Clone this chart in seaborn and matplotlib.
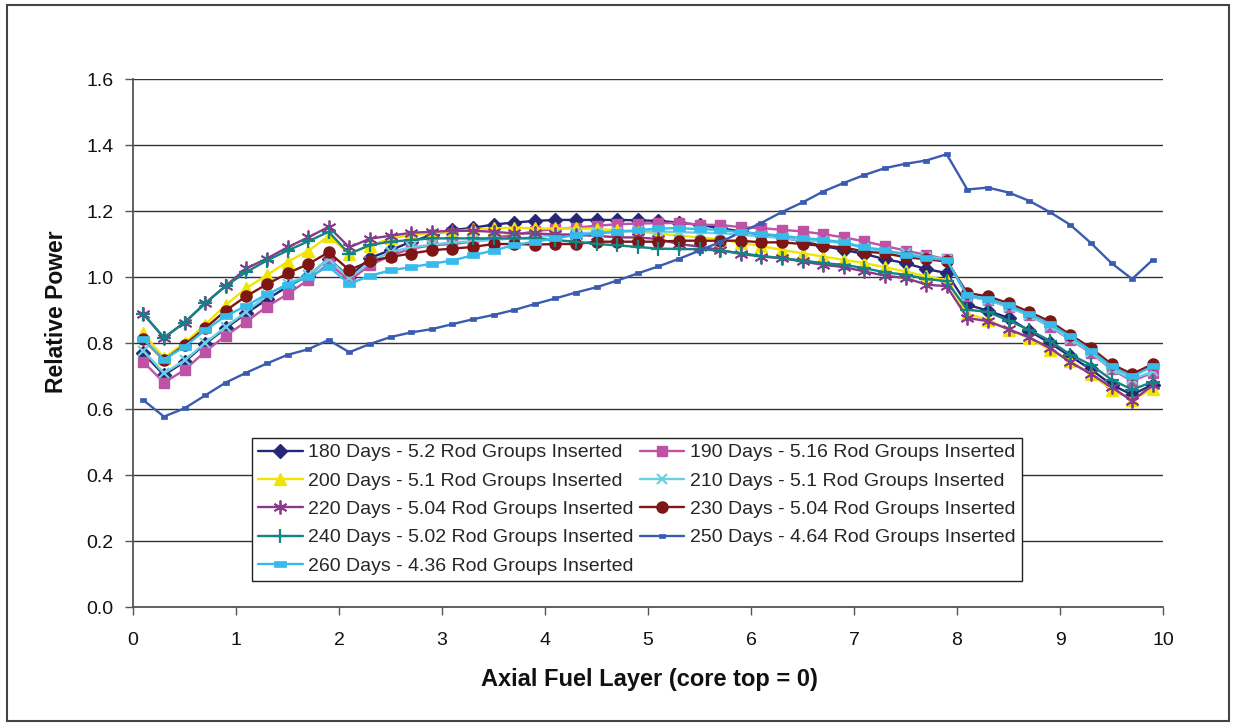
import matplotlib
matplotlib.use("Agg")
import matplotlib.pyplot as plt
from matplotlib.patches import Rectangle
import seaborn as sns

# Axial fuel layer positions (core top = 0)
layer = [0.1, 0.3, 0.5, 0.7, 0.9, 1.1, 1.3, 1.5, 1.7, 1.9,
         2.1, 2.3, 2.5, 2.7, 2.9, 3.1, 3.3, 3.5, 3.7, 3.9,
         4.1, 4.3, 4.5, 4.7, 4.9, 5.1, 5.3, 5.5, 5.7, 5.9,
         6.1, 6.3, 6.5, 6.7, 6.9, 7.1, 7.3, 7.5, 7.7, 7.9,
         8.1, 8.3, 8.5, 8.7, 8.9, 9.1, 9.3, 9.5, 9.7, 9.9]

# Relative power per layer at each burnup step
p180 = [0.769, 0.703, 0.743, 0.797, 0.845, 0.890, 0.932, 0.971, 1.004, 1.055,
        1.000, 1.058, 1.081, 1.107, 1.127, 1.142, 1.149, 1.159, 1.165, 1.170,
        1.173, 1.173, 1.173, 1.173, 1.172, 1.170, 1.165, 1.158, 1.148, 1.138,
        1.128, 1.120, 1.108, 1.094, 1.082, 1.070, 1.054, 1.042, 1.024, 1.012,
        0.916, 0.898, 0.876, 0.837, 0.800, 0.760, 0.720, 0.674, 0.643, 0.674]
p190 = [0.743, 0.680, 0.718, 0.774, 0.822, 0.865, 0.910, 0.948, 0.991, 1.041,
        0.990, 1.035, 1.065, 1.086, 1.096, 1.100, 1.107, 1.120, 1.127, 1.139,
        1.145, 1.150, 1.155, 1.160, 1.162, 1.163, 1.164, 1.158, 1.158, 1.151,
        1.148, 1.143, 1.138, 1.130, 1.120, 1.108, 1.094, 1.080, 1.067, 1.054,
        0.941, 0.931, 0.909, 0.884, 0.850, 0.810, 0.770, 0.720, 0.685, 0.710]
p200 = [0.829, 0.755, 0.800, 0.855, 0.915, 0.966, 1.006, 1.046, 1.079, 1.124,
        1.070, 1.095, 1.117, 1.127, 1.132, 1.137, 1.145, 1.147, 1.150, 1.147,
        1.147, 1.147, 1.145, 1.142, 1.137, 1.132, 1.125, 1.120, 1.115, 1.103,
        1.094, 1.082, 1.072, 1.062, 1.052, 1.042, 1.030, 1.017, 1.002, 0.990,
        0.888, 0.871, 0.840, 0.815, 0.780, 0.745, 0.706, 0.659, 0.628, 0.660]
p210 = [0.777, 0.708, 0.747, 0.800, 0.849, 0.895, 0.945, 0.980, 1.005, 1.055,
        0.996, 1.045, 1.076, 1.090, 1.098, 1.105, 1.108, 1.112, 1.117, 1.120,
        1.127, 1.132, 1.135, 1.137, 1.139, 1.138, 1.136, 1.134, 1.133, 1.128,
        1.123, 1.118, 1.110, 1.108, 1.103, 1.087, 1.077, 1.072, 1.062, 1.054,
        0.941, 0.931, 0.909, 0.884, 0.852, 0.812, 0.772, 0.722, 0.690, 0.714]
p220 = [0.888, 0.816, 0.862, 0.920, 0.973, 1.026, 1.056, 1.090, 1.120, 1.152,
        1.090, 1.116, 1.125, 1.134, 1.137, 1.140, 1.140, 1.137, 1.132, 1.132,
        1.129, 1.127, 1.125, 1.120, 1.120, 1.115, 1.100, 1.092, 1.082, 1.070,
        1.062, 1.057, 1.047, 1.037, 1.030, 1.017, 1.004, 0.997, 0.977, 0.972,
        0.876, 0.866, 0.842, 0.817, 0.785, 0.742, 0.706, 0.666, 0.625, 0.672]
p230 = [0.811, 0.748, 0.794, 0.845, 0.898, 0.942, 0.978, 1.011, 1.039, 1.075,
        1.021, 1.048, 1.061, 1.071, 1.081, 1.086, 1.091, 1.100, 1.100, 1.098,
        1.100, 1.100, 1.107, 1.107, 1.107, 1.107, 1.110, 1.110, 1.110, 1.110,
        1.105, 1.105, 1.100, 1.094, 1.090, 1.077, 1.072, 1.060, 1.054, 1.047,
        0.952, 0.941, 0.921, 0.894, 0.866, 0.825, 0.785, 0.736, 0.706, 0.736]
p240 = [0.888, 0.816, 0.862, 0.920, 0.973, 1.015, 1.050, 1.080, 1.108, 1.137,
        1.070, 1.097, 1.107, 1.112, 1.117, 1.117, 1.117, 1.117, 1.117, 1.117,
        1.112, 1.107, 1.100, 1.096, 1.091, 1.086, 1.085, 1.084, 1.080, 1.072,
        1.064, 1.057, 1.050, 1.042, 1.037, 1.027, 1.014, 1.007, 0.994, 0.987,
        0.901, 0.894, 0.868, 0.840, 0.807, 0.765, 0.734, 0.689, 0.659, 0.682]
p250 = [0.627, 0.577, 0.602, 0.641, 0.680, 0.710, 0.738, 0.764, 0.781, 0.809,
        0.772, 0.797, 0.818, 0.832, 0.842, 0.857, 0.872, 0.885, 0.900, 0.918,
        0.935, 0.953, 0.969, 0.989, 1.011, 1.032, 1.055, 1.080, 1.106, 1.135,
        1.164, 1.197, 1.226, 1.259, 1.285, 1.309, 1.330, 1.343, 1.353, 1.372,
        1.265, 1.271, 1.256, 1.231, 1.197, 1.158, 1.103, 1.042, 0.994, 1.052]
p260 = [0.811, 0.750, 0.789, 0.839, 0.882, 0.913, 0.948, 0.976, 1.001, 1.031,
        0.979, 1.004, 1.020, 1.030, 1.040, 1.050, 1.066, 1.080, 1.097, 1.107,
        1.117, 1.127, 1.132, 1.137, 1.142, 1.147, 1.148, 1.145, 1.143, 1.135,
        1.131, 1.125, 1.118, 1.113, 1.105, 1.090, 1.082, 1.067, 1.057, 1.052,
        0.944, 0.934, 0.914, 0.888, 0.858, 0.820, 0.777, 0.729, 0.699, 0.729]

labels = ["180 Days - 5.2 Rod Groups Inserted",
          "190 Days - 5.16 Rod Groups Inserted",
          "200 Days - 5.1 Rod Groups Inserted",
          "210 Days - 5.1 Rod Groups Inserted",
          "220 Days - 5.04 Rod Groups Inserted",
          "230 Days - 5.04 Rod Groups Inserted",
          "240 Days - 5.02 Rod Groups Inserted",
          "250 Days - 4.64 Rod Groups Inserted",
          "260 Days - 4.36 Rod Groups Inserted"]
series = [p180, p190, p200, p210, p220, p230, p240, p250, p260]

x_ticks = [0, 1, 2, 3, 4, 5, 6, 7, 8, 9, 10]
y_ticks = [0.0, 0.2, 0.4, 0.6, 0.8, 1.0, 1.2, 1.4, 1.6]
y_tick_labels = ["0.0", "0.2", "0.4", "0.6", "0.8", "1.0", "1.2", "1.4", "1.6"]

# small filled bar used as the "dash" marker
bar = [(-1, -0.45), (1, -0.45), (1, 0.45), (-1, 0.45), (-1, -0.45)]

styles = [
    dict(color="#272778", marker="D", markersize=7, mew=1),
    dict(color="#BE52A4", marker="s", markersize=7.5, mew=1),
    dict(color="#F2E400", marker="^", markersize=9, mew=1),
    dict(color="#6CCFE0", marker="x", markersize=7, mew=1.6),
    dict(color="#8A3A8A", marker=(6, 2, 0), markersize=10, mew=1.3),
    dict(color="#7E1616", marker="o", markersize=8, mew=1),
    dict(color="#138383", marker="+", markersize=10, mew=1.6),
    dict(color="#3A5BB0", marker=bar, markersize=5, mew=0.5),
    dict(color="#36BBEA", marker=bar, markersize=9, mew=0.5),
]

sns.set_theme(style="white")
plt.rcParams["font.family"] = ["Liberation Sans", "DejaVu Sans"]

fig = plt.figure(figsize=(12.36, 7.27), dpi=100)
ax = fig.add_axes([133 / 1236, 1 - 607 / 727, 1030 / 1236, 528 / 727])

handles = []
for vals, lab, st in zip(series, labels, styles):
    sns.lineplot(x=layer, y=vals, ax=ax, color=st["color"], linewidth=1.7,
                 marker=st["marker"], markersize=st["markersize"],
                 markeredgewidth=st["mew"], markeredgecolor=st["color"],
                 markerfacecolor=st["color"], label=lab, legend=False)
    handles.append(ax.lines[-1])

ax.set_xlim(0, 10)
ax.set_ylim(0, 1.6)
ax.set_xticks(x_ticks)
ax.set_xticklabels([str(t) for t in x_ticks])
ax.set_yticks(y_ticks)
ax.set_yticklabels(y_tick_labels)

ax.yaxis.grid(True, color="#333333", linewidth=1)
ax.xaxis.grid(False)
ax.set_axisbelow(True)
for side in ("top", "right"):
    ax.spines[side].set_visible(False)
for side in ("left", "bottom"):
    ax.spines[side].set_color("#555555")
    ax.spines[side].set_linewidth(1.3)

ax.tick_params(axis="both", which="major", bottom=True, left=True,
               direction="out", length=6, width=1, color="#555555",
               labelsize=14, labelcolor="#111111")
ax.tick_params(axis="x", pad=12)
ax.tick_params(axis="y", pad=8)

ax.set_xlabel("Axial Fuel Layer (core top = 0)", fontsize=17,
              fontweight="bold", color="#111111")
ax.set_ylabel("Relative Power", fontsize=16.5, fontweight="bold",
              color="#111111")
ax.xaxis.set_label_coords(0.501, -0.115)
ax.yaxis.set_label_coords(-0.063, 0.559)

order = [0, 2, 4, 6, 8, 1, 3, 5, 7]
leg = ax.legend([handles[i] for i in order], [labels[i] for i in order],
                ncol=2, loc="upper left", bbox_to_anchor=(0.1155, 0.320),
                fontsize=14, frameon=True, fancybox=False, framealpha=1,
                edgecolor="#222222", handlelength=2.3, handletextpad=0.3,
                columnspacing=0.3, labelspacing=0.55, borderpad=0.3,
                borderaxespad=0)
leg.get_frame().set_linewidth(1)

# chart-area border
fig.add_artist(Rectangle((7 / 1236, 1 - 721 / 727), 1222 / 1236, 716 / 727,
                         transform=fig.transFigure, fill=False,
                         edgecolor="#444444", linewidth=1.5))

fig.savefig("out.png", dpi=100, facecolor="white")
